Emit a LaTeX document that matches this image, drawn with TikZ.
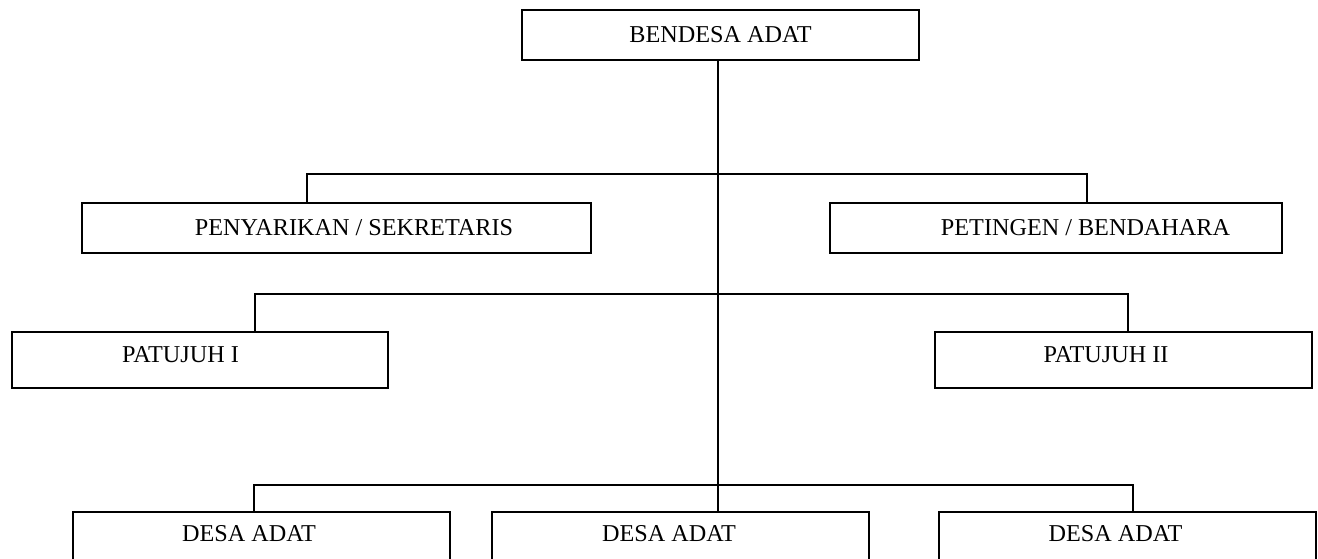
\documentclass[tikz,border=0pt]{standalone}
\usepackage{fontspec}
\setmainfont{Liberation Serif}
\usepackage{xcolor}
\usepackage{tikz}

% text moved sideways inside a fixed box
\newcommand{\offtext}[2]{\makebox[0pt]{\hspace*{#1}#2}}

\begin{document}
\begin{tikzpicture}[x=1pt, y=-1pt, line width=1.6pt,
    box/.style={draw, inner sep=0pt, minimum height=50pt, font=\fontsize{24.2}{29}\selectfont}]
    % Fix the margins
    \clip (0,0) rectangle (1318,559);

    % Draw the boxes
    \node[box, minimum width=397pt] (bendesa) at (720.5,35) {BENDESA ADAT};
    \node[box, minimum width=509pt] (sek) at (336.5,228) {\offtext{35pt}{PENYARIKAN / SEKRETARIS}};
    \node[box, minimum width=452pt] (pet) at (1056,228) {\offtext{59pt}{PETINGEN / BENDAHARA}};
    \node[box, minimum width=376pt, minimum height=56pt, text depth=10pt] (pat1) at (200,360) {\offtext{-39pt}{PATUJUH I}};
    \node[box, minimum width=377pt, minimum height=56pt, text depth=10pt] (pat2) at (1123.5,360) {\offtext{-35pt}{PATUJUH II}};
    \node[box, minimum width=377pt, minimum height=60pt, text depth=18pt] (desa1) at (261.5,542) {\offtext{-25pt}{DESA ADAT}};
    \node[box, minimum width=377pt, minimum height=60pt, text depth=18pt] (desa2) at (680.5,542) {\offtext{-23pt}{DESA ADAT}};
    \node[box, minimum width=377pt, minimum height=60pt, text depth=18pt] (desa3) at (1127.5,542) {\offtext{-24pt}{DESA ADAT}};

    % Bus corners
    \coordinate (trunk) at (718,0);
    \coordinate (rowa) at (307,174);
    \coordinate (rowb) at (1087,174);
    \coordinate (rowc) at (255,294);
    \coordinate (rowd) at (1128,294);
    \coordinate (rowe) at (254,485);
    \coordinate (rowf) at (1133,485);

    % Draw the lines
    \draw (bendesa.south -| trunk) -- (desa2.north -| trunk);
    \draw (sek.north -| rowa) -- (rowa) -- (rowb) -- (pet.north -| rowb);
    \draw (pat1.north -| rowc) -- (rowc) -- (rowd) -- (pat2.north -| rowd);
    \draw (desa1.north -| rowe) -- (rowe) -- (rowf) -- (desa3.north -| rowf);
\end{tikzpicture}
\end{document}
